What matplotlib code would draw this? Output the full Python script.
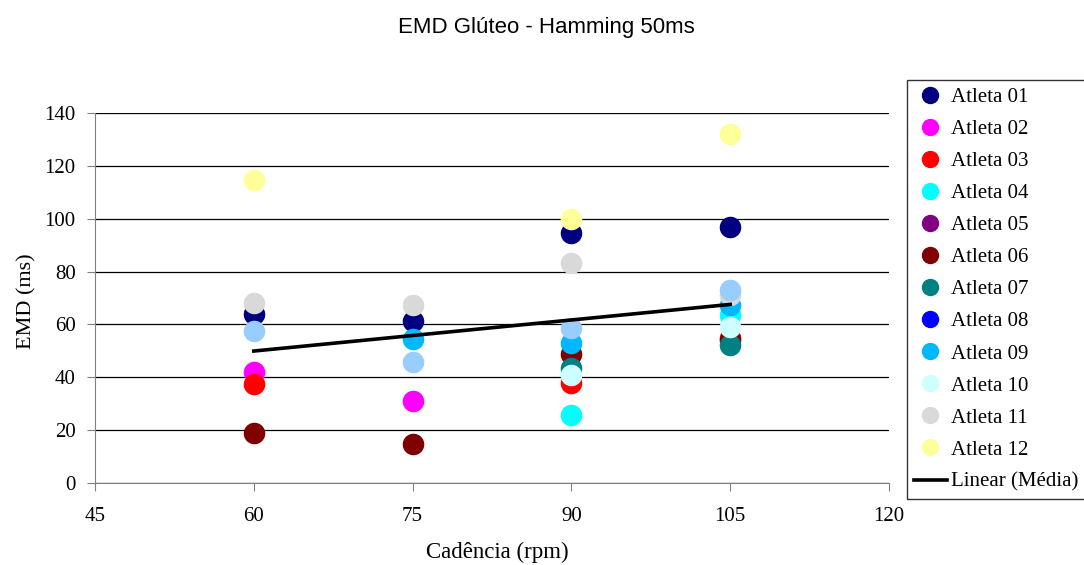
import numpy as np
import matplotlib
matplotlib.use("Agg")
import matplotlib.pyplot as plt

cadence = [60, 75, 90, 105]
nan = np.nan
athletes = ["Atleta 01", "Atleta 02", "Atleta 03", "Atleta 04", "Atleta 05", "Atleta 06",
            "Atleta 07", "Atleta 08", "Atleta 09", "Atleta 10", "Atleta 11", "Atleta 12"]
values = {
    "Atleta 01": [64.0, 61.4, 94.5, 96.7],
    "Atleta 02": [42.0, 31.2, nan, nan],
    "Atleta 03": [37.5, nan, 37.7, 55.0],
    "Atleta 04": [nan, nan, 25.7, 63.6],
    "Atleta 05": [nan, nan, nan, nan],
    "Atleta 06": [19.0, 14.6, 48.8, 54.1],
    "Atleta 07": [nan, nan, 43.4, 52.2],
    "Atleta 08": [nan, nan, nan, nan],
    "Atleta 09": [nan, 54.4, 53.1, 67.3],
    "Atleta 10": [nan, nan, 40.9, 59.2],
    "Atleta 11": [68.2, 67.3, 83.1, 71.0],
    "Atleta 12": [114.6, nan, 99.8, 132.0],
}
media = [57.6, 45.9, 58.5, 73.0]
colors = ["#000080", "#FF00FF", "#FF0000", "#00FFFF", "#800080", "#800000",
          "#008080", "#0000FF", "#00B8FF", "#CCFFFF", "#D9D9D9", "#FFFF99"]
media_color = "#99CCFF"

serif = ["Liberation Serif", "DejaVu Serif"]
sans = ["Liberation Sans", "DejaVu Sans"]

W, H = 1084, 565
fig = plt.figure(figsize=(W/100, H/100), dpi=100)
ax = fig.add_axes([95/W, 1-483/H, (889-95)/W, (483-113)/H])

handles = []
for name, c in zip(athletes, colors):
    h, = ax.plot(cadence, values[name], linestyle="none", marker="o", markersize=14.5,
                 markerfacecolor=c, markeredgecolor=c, label=name, clip_on=False)
    handles.append(h)
ax.plot(cadence, media, linestyle="none", marker="o", markersize=14.5,
        markerfacecolor=media_color, markeredgecolor=media_color, clip_on=False)

coef = np.polyfit(cadence, media, 1)
xs = np.array([cadence[0], cadence[-1]])
lh, = ax.plot(xs, np.polyval(coef, xs), color="black", linewidth=2.6, label="Linear (Média)")
handles.append(lh)

ax.set_xlim(45, 120)
ax.set_ylim(0, 140)
ax.set_xticks([45, 60, 75, 90, 105, 120])
ax.set_yticks(range(0, 141, 20))
ax.yaxis.grid(True, color="black", linewidth=0.9)
ax.set_axisbelow(True)
for s in ["top", "right"]:
    ax.spines[s].set_visible(False)
ax.spines["left"].set_color("#808080")
ax.spines["bottom"].set_color("#808080")
ax.tick_params(direction="out", length=6, color="#808080", labelsize=15)
ax.tick_params(axis="y", pad=8)
ax.tick_params(axis="x", pad=11)
for lbl in ax.get_xticklabels() + ax.get_yticklabels():
    lbl.set_family(serif)

ax.set_xlabel("Cadência (rpm)", family=serif, fontsize=16.5)
ax.xaxis.label.set_va("center")
ax.xaxis.set_label_coords((497.5-95)/794, (483-552)/370)
ax.set_ylabel("EMD (ms)", family=serif, fontsize=16)
ax.yaxis.label.set_va("center")
ax.yaxis.set_label_coords((27-95)/794, (483-301.5)/370)

fig.text(546/W, 1-27/H, "EMD Glúteo - Hamming 50ms", ha="center", va="center",
         family=sans, fontsize=16)

leg = fig.legend(handles=handles, loc="upper left", bbox_to_anchor=(907/W, 1-80/H),
                 prop={"family": serif, "size": 15}, frameon=True, fancybox=False,
                 edgecolor="black", borderpad=0.35, labelspacing=0.6, handlelength=1.55,
                 handletextpad=0.2, borderaxespad=0)
leg.get_frame().set_linewidth(1.0)
for h in leg.legend_handles[:-1]:
    h.set_markersize(11.5)

fig.savefig("out.png", dpi=100)
